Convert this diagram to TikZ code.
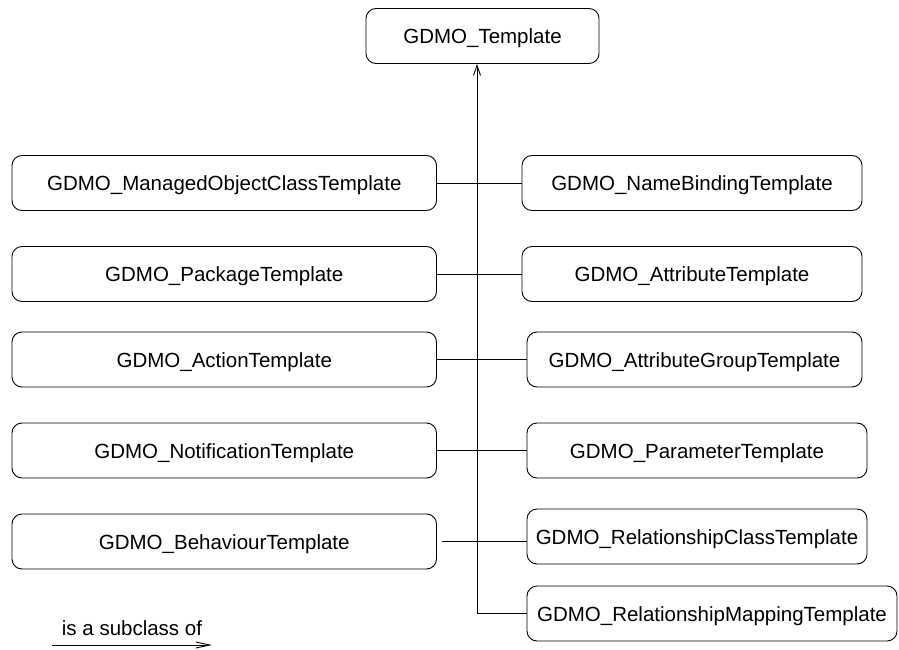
\documentclass[tikz,border=0pt]{standalone}
\usepackage{fontspec}
\setmainfont{Liberation Sans}
\usetikzlibrary{arrows.meta}

\begin{document}
\begin{tikzpicture}[x=1pt,y=-1pt,line width=0.9pt,
	every node/.style={font=\fontsize{20.5}{24}\selectfont},
	cls/.style={draw,rounded corners=10pt,inner sep=0pt,minimum height=55pt,text height=15pt,text depth=-1pt},
	subarrow/.style={-{Straight Barb[length=10pt,width=7pt]}}]
		
		\useasboundingbox (0,0) rectangle (899,650);
		
		\node[cls,minimum width=233pt] (tmpl) at (482.5,36) {GDMO\_Template};
		
		% left column
		\node[cls,minimum width=424.5pt] (moc) at (224.25,183) {GDMO\_ManagedObjectClassTemplate};
		\node[cls,minimum width=424.5pt] (pkg) at (224.25,274) {GDMO\_PackageTemplate};
		\node[cls,minimum width=424.5pt] (act) at (224.25,359.5) {GDMO\_ActionTemplate};
		\node[cls,minimum width=424.5pt] (notif) at (224.25,450.5) {GDMO\_NotificationTemplate};
		\node[cls,minimum width=424.5pt] (behav) at (224.25,541.5) {GDMO\_BehaviourTemplate};
		
		% right column
		\node[cls,minimum width=340pt] (nb) at (692,183) {GDMO\_NameBindingTemplate};
		\node[cls,minimum width=340pt] (attr) at (692,274) {GDMO\_AttributeTemplate};
		\node[cls,minimum width=335pt] (attrgrp) at (694.5,359.5) {GDMO\_AttributeGroupTemplate};
		\node[cls,minimum width=340pt] (param) at (697,450.5) {GDMO\_ParameterTemplate};
		\node[cls,minimum width=340pt] (relcls) at (697,536.5) {GDMO\_RelationshipClassTemplate};
		\node[cls,minimum width=370pt] (relmap) at (712,613.5) {GDMO\_RelationshipMappingTemplate};
		
		\coordinate (trunktop) at (477,64);
		\draw[subarrow] (relmap.west) -| (trunktop);
		
		\draw (moc.east) -- (nb.west);
		\draw (pkg.east) -- (attr.west);
		\draw (act.east) -- (attrgrp.west);
		\draw (notif.east) -- (param.west);
		\draw ([xshift=5pt]behav.east) -- (behav.east -| relcls.west);
		
		% legend
		\coordinate (legA) at (52,645);
		\coordinate (legB) at (212,645);
		\draw[-{Straight Barb[length=14pt,width=6pt]}] (legA) -- (legB);
		\node (legtext) at (132,628) {is a subclass of};
		
	\end{tikzpicture}
\end{document}
